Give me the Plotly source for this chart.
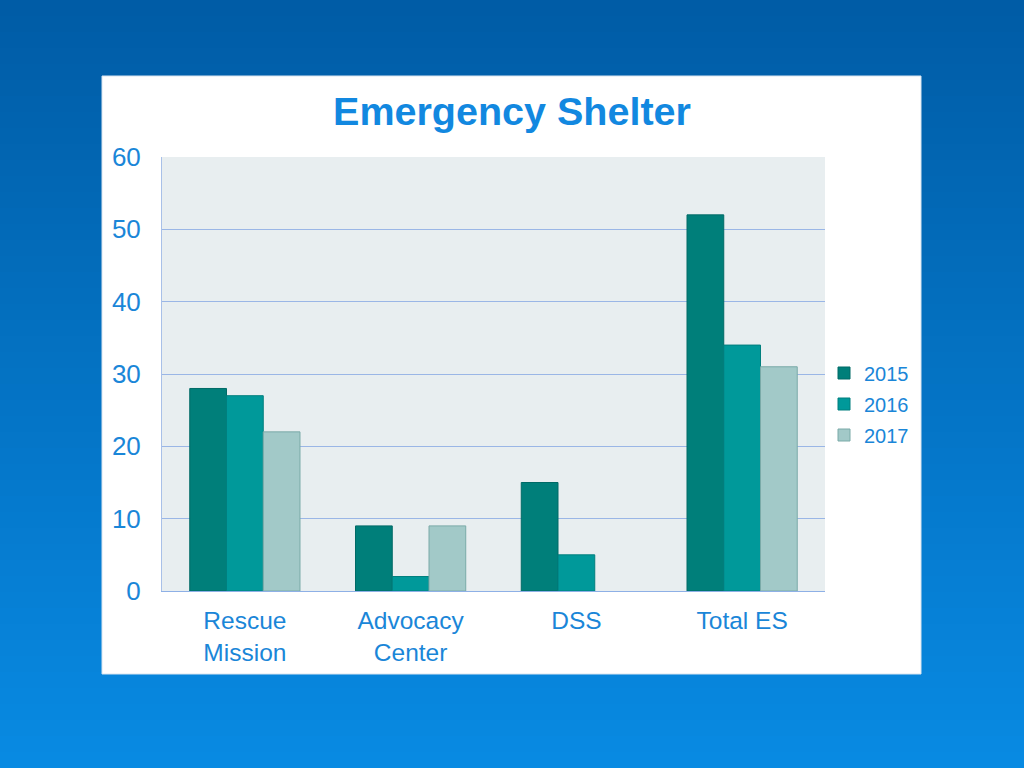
import plotly.graph_objects as go

categories = ["Rescue<br>Mission", "Advocacy<br>Center", "DSS", "Total ES"]
years = ["2015", "2016", "2017"]
v2015 = [28, 9, 15, 52]
v2016 = [27, 2, 5, 34]
v2017 = [22, 9, None, 31]
series = [v2015, v2016, v2017]
bar_colors = ["#007f7a", "#00999a", "#a2c9c8"]
line_colors = ["#006a66", "#007f7e", "#7aaaa8"]
y_ticks = [0, 10, 20, 30, 40, 50, 60]

W, H = 1024, 768
L, R, T, B = 162, 825, 157, 591
pw, ph = R - L, B - T

def px(x):
    return (x - L) / pw

def py(y):
    return (B - y) / ph

fig = go.Figure()
for name, vals, c, lc in zip(years, series, bar_colors, line_colors):
    fig.add_trace(go.Bar(x=categories, y=vals, name=name, legendgroup=name,
                         marker=dict(color=c, line=dict(color=lc, width=1))))

shapes = []
# gradient background
n = 48
top = (0, 92, 166)
bot = (8, 138, 226)
for i in range(n):
    t = i / (n - 1)
    col = tuple(int(round(top[k] + (bot[k] - top[k]) * t)) for k in range(3))
    y0 = i * H / n
    y1 = (i + 1) * H / n + 1
    shapes.append(dict(type="rect", xref="paper", yref="paper",
                       x0=px(-2), x1=px(W + 2), y0=py(y1), y1=py(y0 - (2 if i == 0 else 0)),
                       fillcolor="rgb(%d,%d,%d)" % col, line=dict(width=0), layer="below"))
# white panel
shapes.append(dict(type="rect", xref="paper", yref="paper",
                   x0=px(102), x1=px(921), y0=py(674), y1=py(76),
                   fillcolor="white", line=dict(color="#d8e4f0", width=1), layer="below"))
# plot area background
shapes.append(dict(type="rect", xref="paper", yref="paper",
                   x0=0, x1=1, y0=0, y1=1,
                   fillcolor="#e8eef0", line=dict(width=0), layer="below"))

blue = "#1a86d8"
fig.update_layout(
    width=W, height=H,
    margin=dict(l=L, r=W - R, t=T, b=H - B, pad=0),
    paper_bgcolor="#0a78c8",
    plot_bgcolor="rgba(0,0,0,0)",
    shapes=shapes,
    barmode="group",
    bargap=0.335,
    bargroupgap=0,
    font=dict(family="Liberation Sans, Arial, sans-serif", color=blue, size=25),
    title=dict(text="<b>Emergency Shelter</b>", x=0.5, xanchor="center",
               y=1 - 111 / H, yanchor="middle",
               font=dict(size=39.5, color="#1288e0", family="Liberation Sans, Arial, sans-serif")),
    legend=dict(x=px(824), y=py(404), xanchor="left", yanchor="middle",
                font=dict(size=20, color=blue), bgcolor="rgba(0,0,0,0)",
                traceorder="grouped", tracegroupgap=2),
    showlegend=True,
)
fig.update_yaxes(range=[0, 60], tickvals=y_ticks, showgrid=True, gridcolor="#9ab6e6",
                 gridwidth=1, showline=True, linecolor="#a8c0e8", linewidth=1,
                 zeroline=False, ticks="", tickfont=dict(size=26, color=blue),
                 ticklabelstandoff=15)
fig.update_xaxes(showline=True, linecolor="#8eb0e6", linewidth=1, ticks="",
                 tickfont=dict(size=24.5, color=blue), showgrid=False,
                 ticklabelstandoff=8)

fig.write_html("out.html", config={"displayModeBar": False},
               post_script="document.body.style.margin='0';")
